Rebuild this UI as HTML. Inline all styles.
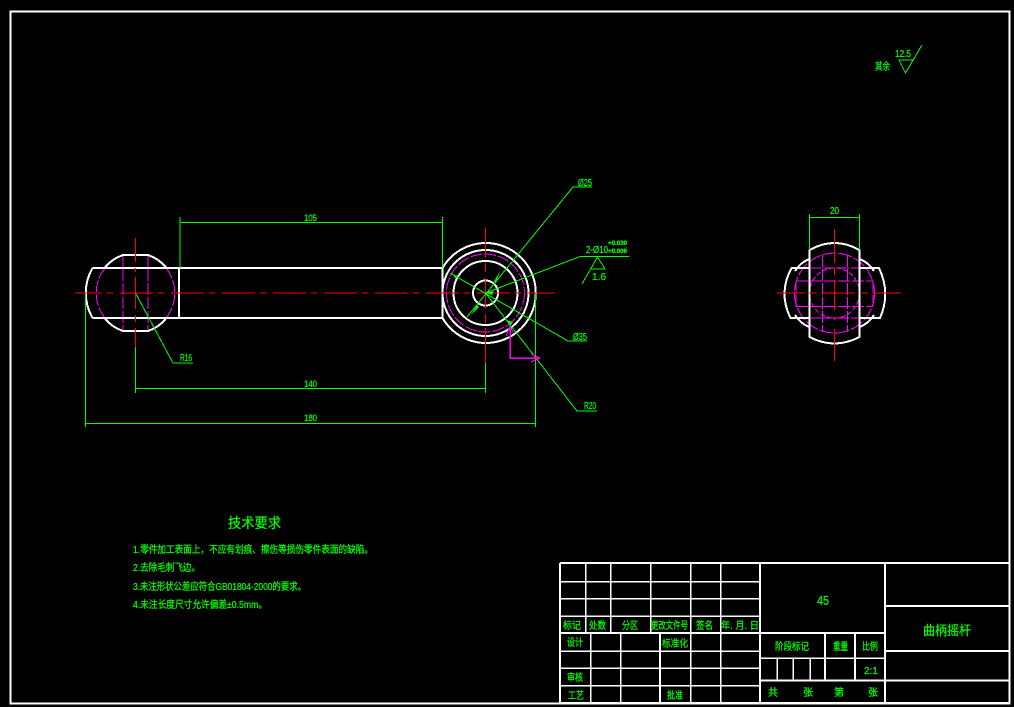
<!DOCTYPE html>
<html><head><meta charset="utf-8"><style>
html,body{margin:0;padding:0;background:#000;width:1014px;height:707px;overflow:hidden}
svg{display:block}
text{font-family:"Liberation Sans","WenQuanYi Zen Hei","Noto Sans CJK SC",sans-serif;fill:#00ff00;stroke:#00ff00;stroke-width:.25;font-size:10px}
.w{stroke:#fff;stroke-width:2;fill:none;shape-rendering:crispEdges}
.t{stroke:#fff;stroke-width:1.5;fill:none;shape-rendering:crispEdges}
.g{stroke:#00ff00;stroke-width:1;fill:none;shape-rendering:crispEdges}
.md{stroke:#ff00ff;stroke-width:1;fill:none;stroke-dasharray:12 2;shape-rendering:crispEdges}
.r{stroke:#ff0000;stroke-width:1;fill:none;shape-rendering:crispEdges}
</style></head><body>
<svg width="1014" height="707" viewBox="0 0 1014 707" xmlns="http://www.w3.org/2000/svg">
<rect width="1014" height="707" fill="#000"/>
<rect x="10.500" y="11.500" width="999" height="692" fill="none" stroke="#fff" stroke-width="2" shape-rendering="crispEdges"/>

<!-- magenta, main view -->
<path class="md" d="M123 255V331M148 255V331"/>
<path class="md" d="M105 268A40 40 0 0 0 105 318M166 268A40 40 0 0 1 166 318"/>
<circle class="md" cx="485.500" cy="293" r="39"/>

<!-- white, left boss -->
<path class="w" d="M92.500 268A50 50 0 0 0 92.500 318"/>
<path class="w" d="M104.500 268A40 40 0 0 1 123 255H148A40 40 0 0 1 166.500 268"/>
<path class="w" d="M104.500 318A40 40 0 0 0 123 331H148A40 40 0 0 0 166.500 318"/>
<path class="w" d="M92.500 268H442.500M92.500 318H442.500M179 268V318M442.500 268V318"/>

<!-- white, right boss -->
<path class="w" d="M442.500 268A50 50 0 1 1 442.500 318"/>
<circle class="w" cx="485.500" cy="293" r="43"/>
<circle class="w" cx="485.500" cy="293" r="32"/>
<circle class="w" cx="485.500" cy="293" r="12.500"/>

<!-- side view magenta -->
<circle class="md" cx="834.500" cy="293" r="40" style="stroke-dasharray:14 2"/>
<circle class="md" cx="834.500" cy="293" r="25" style="stroke-dasharray:5 2"/>
<path class="md" d="M822.500 255V332M847.500 255V332M809 268H860M809 318H860M796 281H873M796 306.500H873M796 281V306.500M873 281V306.500"/>

<!-- side view white -->
<path class="w" d="M809.500 250Q834.500 236 859.500 250V337Q834.500 350 809.500 337Z"/>
<path class="w" d="M809 268H791.500Q778 293 790.500 318H809"/>
<path class="w" d="M860 268H879Q891 293 880 318H860"/>
<path class="w" d="M809 259Q800 263 795 271M809 327Q800 323 795 315M860 259Q869 263 874 271M860 327Q869 323 874 315"/>

<!-- centre lines -->
<path class="r" d="M75 293H555" stroke-dasharray="33 4.500 7 6.500" stroke-dashoffset="6"/>
<path class="r" d="M135.500 238V262M135.500 268V272M135.500 277V309M135.500 315V322M135.500 328V347"/>
<path class="r" d="M485.500 228V258M485.500 263V272M485.500 278V308M485.500 314V323M485.500 328V363"/>
<path class="r" d="M777 293H805M809 293H817M822 293H855M860 293H868M873 293H901"/>
<path class="r" d="M834.500 229V263M834.500 268V275M834.500 280V310M834.500 317V320M834.500 329V361"/>

<!-- green dimensions -->
<path class="g" d="M180 217V268M442.500 217V268M180 222.500H442.500"/>
<path class="g" d="M135.500 347V393M485.500 363V393M135.500 388.500H485.500"/>
<path class="g" d="M85.500 293V427M535.500 293V427M85.500 423.500H535.500"/>
<path class="g" d="M135.500 293L173 363H193"/>
<path class="g" d="M592 187H573L467 317"/>
<path class="g" d="M485.500 293L580 256.500H629"/>
<path class="g" d="M450 273L568 341H587"/>
<path class="g" d="M485.500 293L577 411H597"/>
<path class="g" d="M597.500 257L582 284M597.500 257L605 269H590.500"/>
<path d="M494 281.500L500 271 496 283ZM477 305L471 315 479 307ZM510 326L506 320 513 322ZM486 293L494 291 492 295ZM452 274L458 276 456 279Z" fill="#00ff00"/>
<path class="g" d="M809.500 250V214M859.500 250V214M809.500 217.500H859.500"/>
<path class="g" d="M899 60H913M899 60L905.500 73L922 45"/>

<!-- magenta leader -->
<path d="M510 326V358H540" stroke="#ff00ff" stroke-width="1.500" fill="none" shape-rendering="crispEdges"/>
<path d="M510 326L506 336M510 326L514 334M540 358L531 354M540 358L531 362" stroke="#ff00ff" fill="none" shape-rendering="crispEdges"/>

<!-- title block -->
<g class="w">
<path d="M560 563H1010M560 563V703M560 703H1010M760 563V703M885 563V703"/>
<path d="M560 633H885M885 606H1010M885 651H1010M885 680.500H1010M760 680.500H885"/>
<path d="M660 633V703M825 633V680.500M855 633V680.500"/>
</g>
<g class="t">
<path d="M560 581.500H760M560 598.500H760M560 616H760"/>
<path d="M585.500 563V633M610.500 563V633M650.500 563V633M690.500 563V633M720.500 563V633"/>
<path d="M560 651H760M560 668H760M560 685.500H760"/>
<path d="M590.500 633V703M620.500 633V703M690.500 633V703M720.500 633V703"/>
<path d="M760 658H885M777 658V680.500M793 658V680.500M810 658V680.500"/>
</g>

<!-- labels -->
<g>
<text x="304" y="221" textLength="13" lengthAdjust="spacingAndGlyphs" style="font-size:9px">105</text>
<text x="304" y="387" textLength="13" lengthAdjust="spacingAndGlyphs" style="font-size:9px">140</text>
<text x="304" y="421" textLength="13" lengthAdjust="spacingAndGlyphs" style="font-size:9px">180</text>
<text x="180" y="361" textLength="12" lengthAdjust="spacingAndGlyphs">R16</text>
<text x="578" y="186" textLength="14" lengthAdjust="spacingAndGlyphs">Ø25</text>
<text x="586" y="253" textLength="22" lengthAdjust="spacingAndGlyphs">2-Ø10</text>
<text x="608" y="245" textLength="19" lengthAdjust="spacingAndGlyphs" style="font-size:6px;font-weight:bold">+0.030</text>
<text x="608" y="253" textLength="19" lengthAdjust="spacingAndGlyphs" style="font-size:6px;font-weight:bold">+0.006</text>
<text x="592" y="280" textLength="14" style="font-size:10px">1.6</text>
<text x="573" y="340" textLength="14" lengthAdjust="spacingAndGlyphs">Ø35</text>
<text x="584" y="409" textLength="12" lengthAdjust="spacingAndGlyphs">R20</text>
<text x="830" y="214" textLength="9" lengthAdjust="spacingAndGlyphs">20</text>
<text x="895" y="57" textLength="16" lengthAdjust="spacingAndGlyphs">12.5</text>
<text x="875" y="70" textLength="15" lengthAdjust="spacingAndGlyphs">其余</text>

<text x="228" y="528" textLength="53" lengthAdjust="spacingAndGlyphs" style="font-size:14px">技术要求</text>
<text x="133" y="553" textLength="240" lengthAdjust="spacingAndGlyphs">1.零件加工表面上，不应有划痕、擦伤等损伤零件表面的缺陷。</text>
<text x="133" y="571" textLength="67" lengthAdjust="spacingAndGlyphs">2.去除毛刺飞边。</text>
<text x="133" y="590" textLength="173" lengthAdjust="spacingAndGlyphs">3.未注形状公差应符合GB01804-2000的要求。</text>
<text x="133" y="608" textLength="134" lengthAdjust="spacingAndGlyphs">4.未注长度尺寸允许偏差±0.5mm。</text>

<text x="563" y="629" textLength="18" lengthAdjust="spacingAndGlyphs">标记</text>
<text x="589" y="629" textLength="17" lengthAdjust="spacingAndGlyphs">处数</text>
<text x="622" y="629" textLength="16" lengthAdjust="spacingAndGlyphs">分区</text>
<text x="651" y="629" textLength="37" lengthAdjust="spacingAndGlyphs">更改文件号</text>
<text x="696" y="629" textLength="17" lengthAdjust="spacingAndGlyphs">签名</text>
<text x="721" y="629" textLength="38" lengthAdjust="spacingAndGlyphs">年. 月. 日</text>
<text x="567" y="646" textLength="16" lengthAdjust="spacingAndGlyphs">设计</text>
<text x="662" y="647" textLength="26" lengthAdjust="spacingAndGlyphs">标准化</text>
<text x="567" y="681" textLength="16" lengthAdjust="spacingAndGlyphs">审核</text>
<text x="568" y="699" textLength="16" lengthAdjust="spacingAndGlyphs">工艺</text>
<text x="667" y="699" textLength="16" lengthAdjust="spacingAndGlyphs">批准</text>
<text x="775" y="650" textLength="34" lengthAdjust="spacingAndGlyphs">阶段标记</text>
<text x="833" y="650" textLength="15" lengthAdjust="spacingAndGlyphs">重量</text>
<text x="862" y="650" textLength="16" lengthAdjust="spacingAndGlyphs">比例</text>
<text x="864" y="674" textLength="14" lengthAdjust="spacingAndGlyphs">2:1</text>
<text x="768" y="696">共</text>
<text x="803" y="696">张</text>
<text x="834" y="696">第</text>
<text x="868" y="696">张</text>
<text x="817" y="605" textLength="12" lengthAdjust="spacingAndGlyphs" style="font-size:13px">45</text>
<text x="923" y="635" textLength="48" lengthAdjust="spacingAndGlyphs" style="font-size:13px">曲柄摇杆</text>
</g>
</svg>
</body></html>
